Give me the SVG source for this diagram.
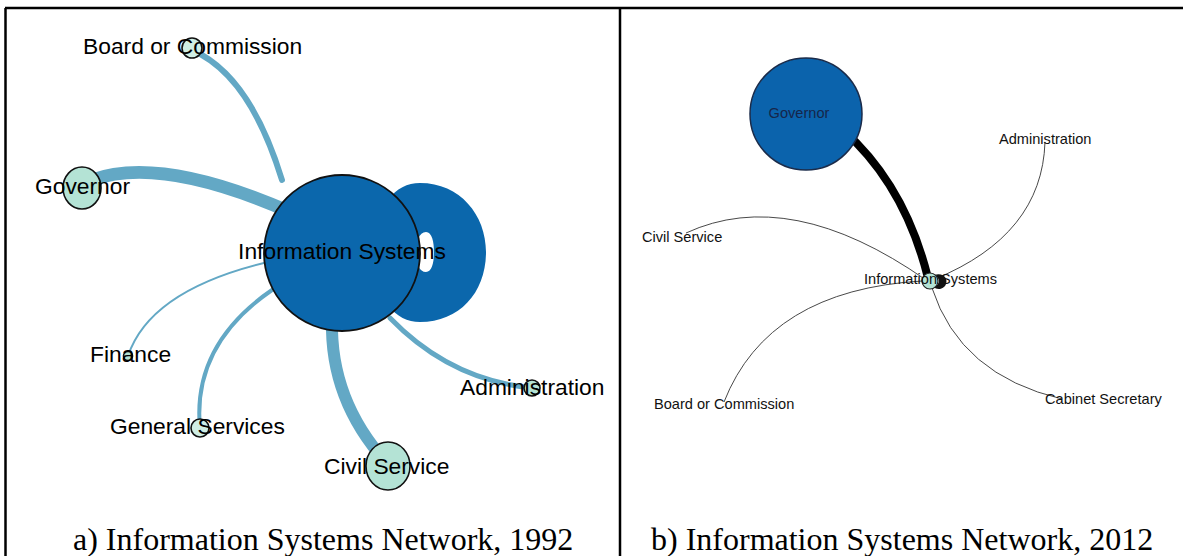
<svg xmlns="http://www.w3.org/2000/svg" width="1183" height="556" viewBox="0 0 1183 556">
<style>
.frame{stroke:#000;stroke-width:2.5;fill:none}
.ea{fill:none;stroke:#63a8c5;stroke-linecap:round}
.eb{fill:none;stroke:#333;stroke-width:0.9}
.mint{fill:#b4e3d5;stroke:#111;stroke-width:1.6}
.la{font-family:"Liberation Sans",Arial,sans-serif;font-size:22.8px;fill:#000}
.lb{font-family:"Liberation Sans",Arial,sans-serif;font-size:14.6px;fill:#111}
.cap{font-family:"Liberation Serif","Times New Roman",serif;font-size:32px;fill:#000}
</style>
<rect width="1183" height="556" fill="#fff"/>
<g id="frame">
<line class="frame" x1="5" y1="8" x2="1183" y2="8"/>
<line class="frame" x1="5.5" y1="8" x2="5.5" y2="556"/>
<line class="frame" x1="620" y1="8" x2="620" y2="556"/>
</g>
<g id="connectors-a">
<path class="ea" stroke-width="6" d="M192,50 Q250,75 282,180"/>
<path class="ea" stroke-width="13" d="M92,180 Q160,155 290,212"/>
<path class="ea" stroke-width="2" d="M128,356 Q150,290 268,262"/>
<path class="ea" stroke-width="4" d="M200,428 Q192,345 272,290"/>
<path class="ea" stroke-width="12" d="M386,462 Q330,400 332,320"/>
<path class="ea" stroke-width="5" d="M532,388 Q450,380 390,318"/>
</g>
<g id="node-a-is">
<path fill="#0b67ac" fill-rule="evenodd" d="M420,183 C460,183 486,215 486,252 C486,292 460,322 420,322 C395,322 375,300 375,252 C375,205 395,183 420,183 Z M426,232 C419,232 416,242 416,252 C416,263 419,272 426,272 C432,272 434,262 434,252 C434,242 432,232 426,232 Z"/>
<circle cx="342" cy="253" r="78" fill="#0b67ac" stroke="#111" stroke-width="1.8"/>
<text class="la" x="342" y="259" text-anchor="middle">Information Systems</text>
</g>
<g id="node-a-board">
<circle class="mint" cx="192" cy="48" r="10" style="fill:#d0eee4"/>
<text class="la" x="83" y="54">Board or Commission</text>
</g>
<g id="node-a-governor">
<ellipse class="mint" cx="82" cy="188" rx="19" ry="21"/>
<text class="la" x="35" y="194">Governor</text>
</g>
<g id="node-a-finance">
<circle class="mint" cx="128" cy="356" r="4.5"/>
<text class="la" x="90" y="362">Finance</text>
</g>
<g id="node-a-general">
<circle class="mint" cx="200" cy="428" r="9" style="fill:#d0eee4"/>
<text class="la" x="110" y="434">General Services</text>
</g>
<g id="node-a-civil">
<ellipse class="mint" cx="388" cy="466" rx="22" ry="24"/>
<text class="la" x="324" y="474">Civil Service</text>
</g>
<g id="node-a-admin">
<circle class="mint" cx="532" cy="388" r="8"/>
<text class="la" x="460" y="395">Administration</text>
</g>
<g id="connectors-b">
<path fill="none" stroke="#000" stroke-width="8" d="M843,130 Q905,185 928,278"/>
<path class="eb" d="M1045,142 Q1042,235 935,279"/>
<path class="eb" d="M686,233 Q790,185 926,280"/>
<path class="eb" d="M724,402 Q768,290 922,281"/>
<path class="eb" d="M932,288 Q960,375 1062,399"/>
</g>
<g id="node-b-governor">
<circle cx="806" cy="114" r="56" fill="#0b63ac" stroke="#1a2b4a" stroke-width="1.5"/>
<text class="lb" x="799" y="118" text-anchor="middle" style="fill:#16264a">Governor</text>
</g>
<g id="node-b-is">
<path fill="#111" d="M934,275 C944,272 948,279 946,284 C944,290 936,290 934,287 C940,285 941,278 934,275 Z"/>
<circle cx="930" cy="281" r="8" fill="#b4e3d5" stroke="#222" stroke-width="1.2"/>
<text class="lb" x="864" y="284">Information Systems</text>
</g>
<g id="node-b-admin"><text class="lb" x="999" y="144">Administration</text></g>
<g id="node-b-civil"><text class="lb" x="642" y="242">Civil Service</text></g>
<g id="node-b-board"><text class="lb" x="654" y="409">Board or Commission</text></g>
<g id="node-b-cabinet"><text class="lb" x="1045" y="404">Cabinet Secretary</text></g>
<g id="captions">
<text class="cap" x="73" y="550">a) Information Systems Network, 1992</text>
<text class="cap" x="651" y="550">b) Information Systems Network, 2012</text>
</g>
</svg>
